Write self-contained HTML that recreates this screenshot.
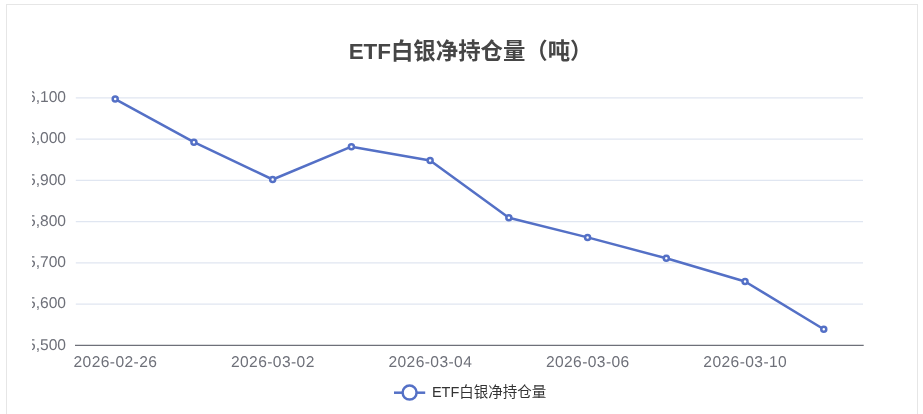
<!DOCTYPE html>
<html><head><meta charset="utf-8"><title>ETF白银净持仓量（吨）</title>
<style>
html,body{margin:0;padding:0;background:#fff;width:923px;height:414px;overflow:hidden}
body{position:relative;font-family:"Liberation Sans",sans-serif}
.card{position:absolute;left:6px;top:4px;width:910px;height:460px;border:1px solid #e6e6e6;background:#fff;box-sizing:content-box}
</style></head><body>
<div class="card"></div>
<svg width="923" height="414" viewBox="0 0 923 414" style="position:absolute;left:0;top:0;will-change:transform">
<g stroke="#E0E6F1" stroke-width="1.25" fill="none">
<line x1="75.8" y1="97.875" x2="863.0" y2="97.875"/>
<line x1="75.8" y1="139.125" x2="863.0" y2="139.125"/>
<line x1="75.8" y1="180.375" x2="863.0" y2="180.375"/>
<line x1="75.8" y1="221.625" x2="863.0" y2="221.625"/>
<line x1="75.8" y1="262.875" x2="863.0" y2="262.875"/>
<line x1="75.8" y1="304.125" x2="863.0" y2="304.125"/>
</g>
<line x1="75.0" y1="345.375" x2="863.7" y2="345.375" stroke="#6E7079" stroke-width="1.25"/>
<g font-family="Liberation Sans, sans-serif" font-size="15.6" fill="#6E7079" text-anchor="end" text-rendering="geometricPrecision">
<text x="66" y="102.08">16,100</text>
<text x="66" y="143.32">16,000</text>
<text x="66" y="184.57">15,900</text>
<text x="66" y="225.82">15,800</text>
<text x="66" y="267.07">15,700</text>
<text x="66" y="308.32">15,600</text>
<text x="66" y="349.57">15,500</text>
</g>
<rect x="7" y="80" width="25" height="280" fill="#fff"/>
<g font-family="Liberation Sans, sans-serif" font-size="15.6" fill="#6E7079" text-anchor="middle" text-rendering="geometricPrecision">
<text x="115.20" y="367" textLength="83.4" lengthAdjust="spacing">2026-02-26</text>
<text x="272.66" y="367" textLength="83.4" lengthAdjust="spacing">2026-03-02</text>
<text x="430.12" y="367" textLength="83.4" lengthAdjust="spacing">2026-03-04</text>
<text x="587.58" y="367" textLength="83.4" lengthAdjust="spacing">2026-03-06</text>
<text x="745.04" y="367" textLength="83.4" lengthAdjust="spacing">2026-03-10</text>
</g>
<path d="M115.20 99.10 L193.93 142.20 L272.66 179.50 L351.39 146.70 L430.12 160.60 L508.85 217.80 L587.58 237.40 L666.31 258.30 L745.04 281.50 L823.77 329.20" fill="none" stroke="#5470C6" stroke-width="2.5" stroke-linejoin="bevel"/>
<g fill="#fff" stroke="#5470C6" stroke-width="2.5">
<circle cx="115.20" cy="99.10" r="2.5"/>
<circle cx="193.93" cy="142.20" r="2.5"/>
<circle cx="272.66" cy="179.50" r="2.5"/>
<circle cx="351.39" cy="146.70" r="2.5"/>
<circle cx="430.12" cy="160.60" r="2.5"/>
<circle cx="508.85" cy="217.80" r="2.5"/>
<circle cx="587.58" cy="237.40" r="2.5"/>
<circle cx="666.31" cy="258.30" r="2.5"/>
<circle cx="745.04" cy="281.50" r="2.5"/>
<circle cx="823.77" cy="329.20" r="2.5"/>
</g>
<text x="348.7" y="58.55" font-family="'Liberation Sans', 'Noto Sans CJK SC', sans-serif" font-size="22.4" font-weight="bold" fill="#464646" text-anchor="start">ETF白银净持仓量（吨）</text>
<line x1="394" y1="392.7" x2="425.2" y2="392.7" stroke="#5470C6" stroke-width="2.5"/>
<circle cx="409.6" cy="392.6" r="7" fill="#fff" stroke="#5470C6" stroke-width="2.5"/>
<text x="431.9" y="396.55" font-family="'Liberation Sans', 'Noto Sans CJK SC', sans-serif" font-size="14.5" fill="#333" text-anchor="start">ETF白银净持仓量</text>
</svg>
</body></html>
